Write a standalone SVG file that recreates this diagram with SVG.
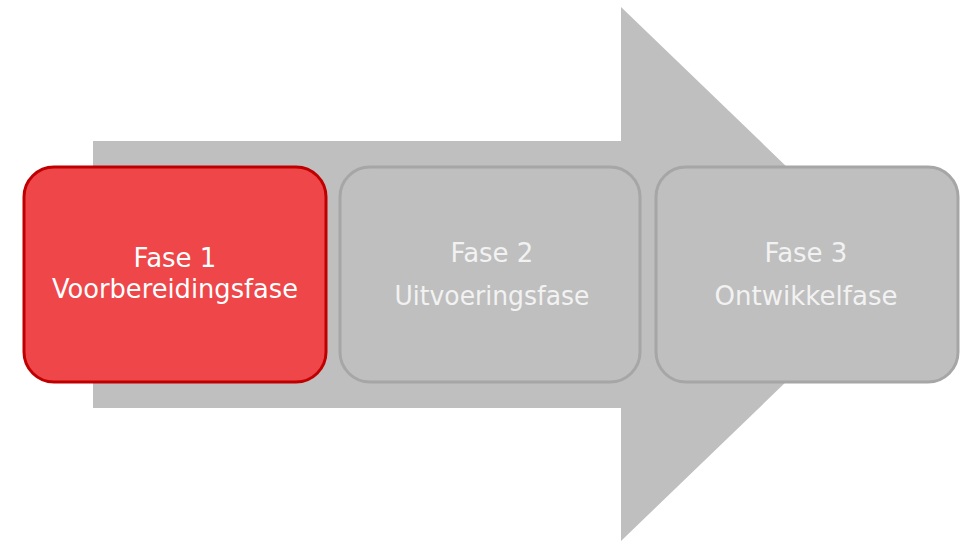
<svg xmlns="http://www.w3.org/2000/svg" width="964" height="543" viewBox="0 0 964 543">
<style>
.lbl{font-family:"DejaVu Sans","Liberation Sans",sans-serif;font-size:26px;text-anchor:middle}
.gray{fill:#BFBFBF;stroke:#A6A6A6;stroke-width:3}
.red{fill:#EE4649;stroke:#C00000;stroke-width:3}
</style>
<rect width="964" height="543" fill="#FFFFFF"/>
<g id="arrow">
<polygon points="93,141 621,141 621,7 898,274 621,541 621,408 93,408" fill="#BFBFBF"/>
</g>
<g id="node1">
<rect class="red" x="24" y="167" width="302" height="215" rx="30" ry="30"/>
<text class="lbl" x="175" y="267" fill="#FFFFFF">Fase 1</text>
<text class="lbl" x="175" y="298" fill="#FFFFFF" textLength="246" lengthAdjust="spacingAndGlyphs">Voorbereidingsfase</text>
</g>
<g id="node2">
<rect class="gray" x="340" y="167" width="300" height="215" rx="30" ry="30"/>
<text class="lbl" x="492" y="262" fill="#F2F2F2">Fase 2</text>
<text class="lbl" x="492" y="305" fill="#F2F2F2" textLength="195" lengthAdjust="spacingAndGlyphs">Uitvoeringsfase</text>
</g>
<g id="node3">
<rect class="gray" x="656" y="167" width="302" height="215" rx="30" ry="30"/>
<text class="lbl" x="806" y="262" fill="#F2F2F2">Fase 3</text>
<text class="lbl" x="806" y="305" fill="#F2F2F2" textLength="183" lengthAdjust="spacingAndGlyphs">Ontwikkelfase</text>
</g>
<g id="connectors"></g>
</svg>
